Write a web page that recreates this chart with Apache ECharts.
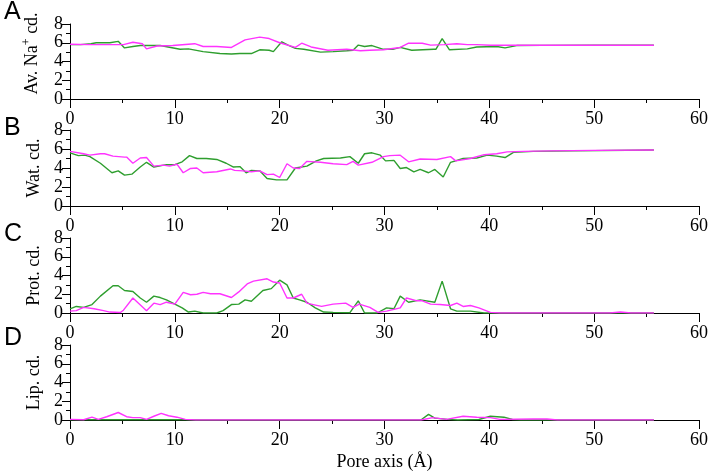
<!DOCTYPE html>
<html><head><meta charset="utf-8">
<script src="https://cdn.jsdelivr.net/npm/echarts@6/dist/echarts.min.js"></script>
<style>html,body{margin:0;padding:0;background:#fff}#c{width:719px;height:474px}</style>
</head><body><div id="c"></div>
<script>
// Panel labels and axis names
const panelLetters = ['A','B','C','D'];
const yNames = ['Av. Na{sup|+} cd.','Wat. cd.','Prot. cd.','Lip. cd.'];
const xName = 'Pore axis (Å)';

// Series data [pore axis, value]
const naGreen = [[0,5.8],[1,5.8],[2,5.9],[2.5,6.0],[3.8,6.0],[4.6,6.15],[5.2,5.45],[6.0,5.6],[6.7,5.7],[8.6,5.7],[10.5,5.3],[11.3,5.35],[12.7,5.05],[14.3,4.85],[15.4,4.8],[16.2,4.85],[17.3,4.85],[18.1,5.25],[19.0,5.2],[19.4,5.05],[20.2,6.1],[20.8,5.75],[21.5,5.4],[22.3,5.3],[23.9,5.0],[25.1,5.05],[26.4,5.15],[27.0,5.2],[27.5,5.75],[28.1,5.6],[28.8,5.7],[29.9,5.3],[30.8,5.3],[31.5,5.5],[32.6,5.2],[34.7,5.3],[34.9,5.3],[35.5,6.45],[36.2,5.25],[37.9,5.35],[38.8,5.55],[40.7,5.6],[41.5,5.45],[42.6,5.7],[45,5.72],[50,5.73],[55.7,5.73]];
const naMagenta = [[0,5.84],[2,5.8],[5.1,5.8],[6.0,6.05],[6.9,5.9],[7.3,5.35],[8.3,5.65],[9.8,5.7],[11.9,5.9],[12.7,5.6],[14,5.6],[15.4,5.5],[16.7,6.3],[18.1,6.6],[19.0,6.45],[20.0,6.0],[21.5,5.5],[22.1,5.95],[23.0,5.55],[24.6,5.2],[26.4,5.3],[27.7,5.15],[28.6,5.2],[29.9,5.25],[31.5,5.5],[32.3,5.95],[33.6,5.95],[34.4,5.75],[35.7,5.8],[36.9,5.9],[37.9,5.8],[38.8,5.8],[40.1,5.73],[45,5.73],[50,5.73],[55.7,5.73]];
const watGreen = [[0,5.6],[0.8,5.3],[1.4,5.35],[1.9,5.2],[2.9,4.5],[4.0,3.5],[4.6,3.7],[5.2,3.25],[5.9,3.35],[6.7,4.1],[7.3,4.6],[8.0,4.1],[9.2,4.35],[10.0,4.35],[10.7,4.65],[11.4,5.3],[12.1,5.0],[13.0,5.0],[14.0,4.9],[14.9,4.5],[15.6,4.1],[16.2,4.15],[16.8,3.5],[17.3,3.75],[18.1,3.7],[18.8,2.9],[19.7,2.75],[20.7,2.75],[21.5,4.0],[22.6,4.2],[23.5,4.75],[24.2,5.0],[25.8,5.05],[26.7,5.2],[27.5,4.5],[28.1,5.5],[28.8,5.6],[29.6,5.35],[30.1,4.75],[30.9,4.8],[31.5,3.95],[32.1,4.05],[32.8,3.6],[33.4,3.85],[34.2,3.5],[34.8,3.85],[35.6,3.05],[36.3,4.6],[37.5,5.0],[38.8,5.05],[39.8,5.35],[40.7,5.25],[41.5,5.1],[42.3,5.65],[44.2,5.75],[48,5.8],[55.7,5.9]];
const watMagenta = [[0,5.75],[1.3,5.5],[1.9,5.35],[2.9,5.5],[3.3,5.5],[4.1,5.25],[5.2,5.15],[5.4,5.15],[6.0,4.5],[6.7,5.05],[7.3,5.1],[8.0,4.2],[8.9,4.3],[9.5,4.2],[10.2,4.4],[10.8,3.5],[11.5,3.95],[12.1,4.0],[12.7,3.5],[14.0,3.6],[15.3,3.9],[15.7,3.75],[16.5,3.7],[17.3,3.6],[18.1,3.7],[18.8,3.3],[19.4,3.35],[20.0,3.0],[20.7,4.45],[21.3,4.0],[21.9,3.95],[22.6,4.7],[23.9,4.6],[25.1,4.45],[26.4,4.35],[27.0,4.7],[27.5,4.3],[28.8,4.6],[29.9,5.2],[30.5,5.3],[31.5,5.35],[32.3,4.65],[33.4,4.95],[35.0,4.9],[36.3,5.2],[36.8,4.75],[38.2,5.0],[39.5,5.4],[40.7,5.5],[41.7,5.7],[43.3,5.75],[45.8,5.8],[50,5.85],[55.7,5.9]];
const protGreen = [[0,0.45],[0.6,0.7],[1.3,0.6],[2.1,0.9],[2.9,1.8],[4.1,2.9],[4.6,2.9],[5.2,2.4],[6.0,2.3],[6.7,1.6],[7.3,1.15],[8.0,1.8],[8.6,1.65],[9.2,1.4],[10.0,0.95],[10.7,0.55],[11.3,0.1],[11.9,0.2],[12.7,0],[14.0,0],[14.6,0.25],[15.4,0.9],[16.1,0.95],[16.7,1.4],[17.3,1.25],[18.4,2.4],[19.2,2.6],[20.0,3.5],[20.7,3.0],[21.3,1.6],[21.9,1.4],[22.6,1.15],[23.4,0.55],[24.2,0.1],[25.1,0.07],[26.7,0.03],[27.5,1.3],[28.1,0],[29.3,0],[30.2,0.55],[30.9,0.45],[31.5,1.8],[32.3,1.15],[33.4,1.4],[34.8,1.15],[35.5,3.4],[36.3,0.45],[36.9,0.2],[38.2,0.2],[39.5,0],[45,0],[55.7,0]];
const protMagenta = [[0,0.2],[0.6,0.25],[1.3,0.6],[2.3,0.45],[3.2,0.25],[3.8,0.1],[4.8,0.05],[5.1,0.3],[6.0,1.6],[7.3,0.25],[8.0,1.05],[8.6,0.9],[9.2,1.15],[10.0,0.95],[10.8,2.2],[11.5,1.95],[12.1,2.0],[12.7,2.2],[13.4,2.05],[14.3,2.05],[15.4,1.65],[16.1,2.25],[16.9,3.1],[17.5,3.4],[18.8,3.65],[19.4,3.3],[20.0,3.2],[20.7,1.6],[21.3,1.6],[22.1,2.0],[22.6,1.05],[23.2,0.9],[24.0,0.7],[25.1,0.95],[26.3,1.05],[27.0,0.6],[27.6,0.95],[28.6,0.6],[29.4,0.07],[30.2,0.2],[31.5,0.55],[32.1,1.6],[33.1,1.3],[33.6,1.3],[34.4,0.95],[35.3,0.9],[36.3,0.8],[36.9,1.05],[37.5,0.7],[38.2,0.8],[39.0,0.55],[40.1,0.07],[41,0],[51.5,0],[52.5,0.1],[53.5,0],[55.7,0]];
const lipGreen = [[0,0.03],[11,0.03],[12,0],[33.5,0.03],[34.2,0.6],[34.8,0.2],[36,0.07],[37,0],[39,0.05],[40.1,0.4],[41.4,0.3],[42.2,0.05],[43,0],[55.7,0]];
const lipMagenta = [[0,0.07],[1.3,0.03],[2.1,0.3],[2.7,0.07],[3.5,0.35],[4.6,0.8],[5.4,0.35],[6.0,0.25],[6.7,0.25],[7.3,0.07],[8.0,0.4],[8.7,0.7],[9.4,0.45],[10.2,0.3],[11.0,0.07],[12,0],[33.5,0],[34.6,0.25],[35.9,0.07],[37.5,0.4],[38.8,0.3],[40.1,0.25],[41.0,0.07],[44.2,0.1],[45.5,0.1],[46.5,0],[55.7,0]];

const greens = [naGreen, watGreen, protGreen, lipGreen];
const magentas = [naMagenta, watMagenta, protMagenta, lipMagenta];

const GREEN = '#2e9e2e', MAGENTA = '#ff33ff';
const tops = [24, 130, 238, 345];
const heights = [75, 76, 75, 75];
const serif = 'Liberation Serif';
const FS = 18;

const chart = echarts.init(document.getElementById('c'));
const grid = [], xAxis = [], yAxis = [], series = [], graphic = [];
for (let i = 0; i < 4; i++) {
  grid.push({left: 70, right: 20, top: tops[i], height: heights[i]});
  xAxis.push({
    type: 'value', gridIndex: i, min: 0, max: 60, interval: 10,
    name: i === 3 ? xName : '', nameLocation: 'middle', nameGap: 33,
    nameTextStyle: {fontFamily: serif, fontSize: FS, color: '#000'},
    axisLine: {show: true, onZero: false, lineStyle: {color: '#000', width: 1}},
    axisTick: {show: true, length: 9, lineStyle: {color: '#000'}},
    minorTick: {show: true, splitNumber: 2, length: 4, lineStyle: {color: '#000'}},
    splitLine: {show: false},
    axisLabel: {fontFamily: serif, fontSize: FS, color: '#000', margin: 11}
  });
  yAxis.push({
    type: 'value', gridIndex: i, min: 0, max: 8, interval: 2,
    name: yNames[i], nameLocation: 'middle', nameGap: 27, nameRotate: 90,
    nameTextStyle: {fontFamily: serif, fontSize: FS, color: '#000',
      padding: i === 0 ? [0, 0, 0, 16] : 0,
      rich: {sup: {fontFamily: serif, fontSize: 12, color: '#000', verticalAlign: 'top', padding: [0,0,10,0]}}},
    axisLine: {show: true, lineStyle: {color: '#000', width: 1}},
    axisTick: {show: true, length: 8, lineStyle: {color: '#000'}},
    minorTick: {show: true, splitNumber: 2, length: 4, lineStyle: {color: '#000'}},
    splitLine: {show: false},
    axisLabel: {fontFamily: serif, fontSize: FS, color: '#000', margin: 7}
  });
  series.push({type: 'line', xAxisIndex: i, yAxisIndex: i, data: greens[i], symbol: 'none',
    lineStyle: {color: GREEN, width: 1.4}, animation: false});
  series.push({type: 'line', xAxisIndex: i, yAxisIndex: i, data: magentas[i], symbol: 'none',
    lineStyle: {color: MAGENTA, width: 1.4}, animation: false});
  graphic.push({type: 'text', left: 4, top: [0, 116, 222, 326][i],
    style: {text: panelLetters[i], font: '25px "Liberation Sans"', fill: '#000'}});
}
chart.setOption({animation: false, grid, xAxis, yAxis, series, graphic});
</script></body></html>
